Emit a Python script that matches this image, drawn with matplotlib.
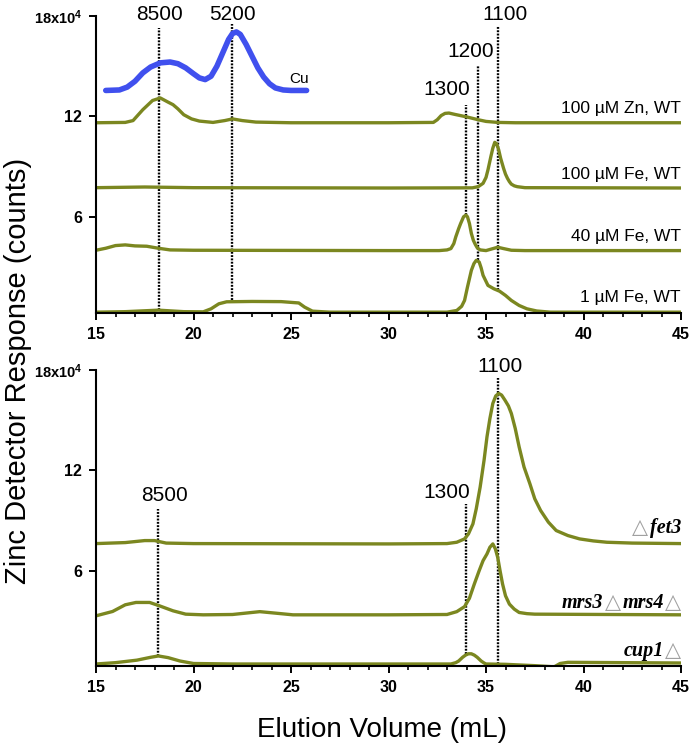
import matplotlib
matplotlib.use('Agg')
import matplotlib.pyplot as plt
from matplotlib.ticker import MultipleLocator
from matplotlib.offsetbox import TextArea, HPacker, AnnotationBbox

plt.rcParams['font.family'] = ['Liberation Sans', 'DejaVu Sans']
plt.rcParams['mathtext.default'] = 'regular'

GREEN = '#7b8720'
BLUE = '#4050ee'
TRI = '#a0a0a0'

# ----------------------------------------------------------------------------
# top panel: WT grown at different metal levels (counts x 10^4)
cu_vol = [15.5, 16.2, 16.6, 17.0, 17.4, 17.8, 18.3, 18.8, 19.2, 19.6, 20.0,
          20.3, 20.6, 20.9, 21.2, 21.5, 21.8, 22.0, 22.2, 22.4, 22.7, 23.0,
          23.3, 23.6, 23.9, 24.2, 24.6, 25.0, 25.8]
cu_resp = [13.55, 13.58, 13.75, 14.1, 14.6, 14.95, 15.2, 15.25, 15.15, 14.9,
           14.55, 14.3, 14.2, 14.4, 15.0, 15.8, 16.6, 16.95, 17.05, 16.9,
           16.3, 15.6, 14.9, 14.35, 13.95, 13.7, 13.58, 13.55, 13.55]

zn100_vol = [15, 16.5, 16.9, 17.4, 17.9, 18.3, 18.7, 18.95, 19.2, 19.5, 19.9,
             20.3, 21.0, 21.6, 22.0, 22.5, 23.2, 25, 30, 32.3, 32.5, 32.7,
             32.9, 33.1, 33.4, 33.97, 34.6, 35.0, 35.6, 36.5, 45]
zn100_resp = [11.62, 11.64, 11.75, 12.4, 12.95, 13.1, 12.85, 12.7, 12.45,
              12.1, 11.85, 11.72, 11.64, 11.75, 11.85, 11.75, 11.66, 11.62,
              11.62, 11.64, 11.8, 12.05, 12.18, 12.2, 12.12, 11.98, 11.8,
              11.7, 11.64, 11.62, 11.62]

fe100_vol = [15, 17.5, 20, 30, 34.3, 34.6, 34.85, 35.0, 35.1, 35.25, 35.35,
             35.45, 35.55, 35.65, 35.75, 35.9, 36.0, 36.1, 36.2, 36.3, 36.45,
             36.6, 37.0, 45]
fe100_resp = [7.74, 7.78, 7.74, 7.72, 7.73, 7.8, 8.0, 8.35, 8.8, 9.6, 10.1,
              10.45, 10.35, 10.0, 9.5, 8.9, 8.55, 8.3, 8.1, 7.95, 7.85, 7.8,
              7.74, 7.72]

fe40_vol = [15, 15.5, 16.0, 16.5, 17.0, 17.6, 18.2, 18.8, 20, 30, 32.6, 33.0,
            33.2, 33.35, 33.45, 33.6, 33.7, 33.85, 33.97, 34.05, 34.15, 34.25,
            34.35, 34.45, 34.55, 34.7, 35.0, 35.3, 35.6, 35.9, 36.3, 37, 45]
fe40_resp = [4.0, 4.12, 4.28, 4.32, 4.26, 4.24, 4.12, 4.02, 4.0, 3.98, 3.98,
             4.02, 4.1, 4.4, 4.8, 5.3, 5.6, 6.0, 6.1, 6.0, 5.6, 5.0, 4.6,
             4.35, 4.15, 4.02, 3.98, 4.08, 4.18, 4.1, 4.0, 3.98, 3.98]

fe1_vol = [15, 16.5, 18.2, 19.5, 20.5, 20.9, 21.3, 21.7, 23.0, 24.5, 25.4,
           25.7, 26.1, 27, 30, 33.0, 33.5, 33.75, 33.9, 34.05, 34.25, 34.38,
           34.5, 34.65, 34.75, 34.85, 35.1, 35.4, 35.7, 36.0, 36.3, 36.7,
           37.1, 37.6, 38.3, 45]
fe1_resp = [0.3, 0.33, 0.42, 0.33, 0.32, 0.5, 0.8, 0.92, 0.94, 0.93, 0.85,
            0.6, 0.36, 0.3, 0.3, 0.3, 0.4, 0.65, 1.0, 1.8, 2.8, 3.2, 3.4,
            3.3, 2.95, 2.5, 1.9, 1.7, 1.55, 1.3, 1.0, 0.7, 0.5, 0.37, 0.3,
            0.3]

top_series = [(zn100_vol, zn100_resp), (fe100_vol, fe100_resp),
              (fe40_vol, fe40_resp), (fe1_vol, fe1_resp)]
top_names = ['100 \u00b5M Zn, WT', '100 \u00b5M Fe, WT', '40 \u00b5M Fe, WT',
             '1 \u00b5M Fe, WT']

# marker lines (elution volume, from, to) and apparent mass labels
top_mark_vol = [18.25, 21.97, 33.97, 34.6, 35.6]
top_mark_lo = [0.45, 1.0, 6.1, 3.4, 1.6]
top_mark_hi = [17.3, 17.5, 12.7, 15.0, 17.4]
top_mark_text = ['8500', '5200', '1300', '1200', '1100']

# ----------------------------------------------------------------------------
# bottom panel: deletion strains
fet3_vol = [15, 16.5, 17.5, 18.0, 18.6, 20, 30, 33.0, 33.5, 33.9, 34.1,
            34.33, 34.5, 34.7, 34.9, 35.05, 35.2, 35.35, 35.5, 35.65, 35.8,
            35.97, 36.15, 36.3, 36.5, 36.7, 36.95, 37.25, 37.5, 37.8, 38.2,
            38.6, 39.2, 39.8, 40.5, 41.2, 42.5, 45]
fet3_resp = [7.62, 7.68, 7.8, 7.8, 7.65, 7.62, 7.6, 7.62, 7.7, 7.9, 8.2,
             8.8, 9.7, 11.0, 12.6, 14.0, 15.1, 16.0, 16.45, 16.6, 16.5,
             16.2, 15.85, 15.4, 14.5, 13.4, 12.2, 11.2, 10.3, 9.6, 8.9, 8.4,
             8.1, 7.9, 7.78, 7.7, 7.65, 7.62]

mrs_vol = [15, 15.85, 16.5, 17.05, 17.75, 18.25, 18.95, 19.6, 20.5, 22,
           23.4, 24.3, 25.1, 30, 33, 33.5, 33.9, 34.15, 34.4, 34.65, 34.85,
           35.05, 35.2, 35.35, 35.48, 35.6, 35.72, 35.85, 36.0, 36.2, 36.45,
           36.7, 37.1, 37.5, 45]
mrs_resp = [3.3, 3.56, 3.96, 4.1, 4.1, 3.9, 3.6, 3.4, 3.36, 3.38, 3.55,
            3.45, 3.36, 3.36, 3.38, 3.55, 3.85, 4.35, 5.2, 6.0, 6.6, 7.0,
            7.4, 7.6, 7.3, 6.8, 6.0, 5.2, 4.5, 4.0, 3.7, 3.5, 3.43, 3.4,
            3.36]

cup1_vol = [15, 16, 17.1, 17.8, 18.2, 18.7, 19.3, 20, 22, 30, 33.2, 33.45,
            33.6, 33.8, 33.95, 34.1, 34.25, 34.4, 34.55, 34.75, 34.9, 35.0,
            36, 37.5, 38.5, 38.8, 39.2, 45]
cup1_resp = [0.42, 0.5, 0.65, 0.82, 0.9, 0.8, 0.6, 0.45, 0.42, 0.42, 0.42,
             0.5, 0.6, 0.82, 0.95, 1.03, 1.03, 0.95, 0.82, 0.6, 0.48, 0.42,
             0.4, 0.32, 0.25, 0.45, 0.52, 0.48]

bot_series = [(fet3_vol, fet3_resp), (mrs_vol, mrs_resp),
              (cup1_vol, cup1_resp)]
# strain names as (text, is_triangle) pieces
bot_names = [[('\u25b3', True), ('fet3', False)],
             [('mrs3', False), ('\u25b3', True), ('mrs4', False),
              ('\u25b3', True)],
             [('cup1', False), ('\u25b3', True)]]

bot_mark_vol = [18.2, 33.97, 35.6]
bot_mark_lo = [0.9, 1.04, 0.42]
bot_mark_hi = [9.7, 10.0, 17.5]
bot_mark_text = ['8500', '1300', '1100']

y_ticks = [6, 12, 18]
y_ticklabels = ['6', '12', '18x10$^{4}$']
x_ticks = [15, 20, 25, 30, 35, 40, 45]

# ----------------------------------------------------------------------------


def style_axis(ax, ymin):
    ax.set_xlim(15, 45)
    ax.set_ylim(ymin, 18)
    for s in ['top', 'right']:
        ax.spines[s].set_visible(False)
    for s in ['left', 'bottom']:
        ax.spines[s].set_linewidth(1.5)
    ax.set_xticks(x_ticks)
    ax.set_xticklabels([str(v) for v in x_ticks], fontweight='bold',
                       fontsize=11.5)
    ax.xaxis.set_minor_locator(MultipleLocator(1))
    ax.set_yticks(y_ticks)
    ax.set_yticklabels(y_ticklabels, fontweight='bold', fontsize=11.5)
    ax.get_yticklabels()[-1].set_fontsize(10.5)
    ax.tick_params(axis='both', which='major', direction='out', length=5,
                   width=1.4, pad=5)
    ax.tick_params(axis='x', which='minor', direction='out', length=3,
                   width=1.2)


def mark_lines(ax, vols, lo, hi):
    for v, a, b in zip(vols, lo, hi):
        ax.plot([v, v], [a, b], color='black', lw=1.7,
                linestyle=(0, (0.8, 0.6)), clip_on=False, zorder=1)


def strain_label(ax, pieces, y):
    boxes = []
    for txt, tri in pieces:
        if tri:
            props = dict(color=TRI, fontsize=15, family='DejaVu Sans')
        else:
            props = dict(color='black', fontsize=14.5,
                         family='Liberation Serif', style='italic',
                         fontweight='bold')
        boxes.append(TextArea(txt, textprops=props))
    pack = HPacker(children=boxes, sep=1, pad=0, align='baseline')
    ab = AnnotationBbox(pack, (45, y), xycoords='data',
                        box_alignment=(1, 0.5), frameon=False, pad=0,
                        annotation_clip=False)
    ax.add_artist(ab)


fig = plt.figure(figsize=(6.92, 7.48), dpi=100)
ax1 = fig.add_axes([96 / 692, 1 - 313 / 748, 585 / 692, 297 / 748])
ax2 = fig.add_axes([96 / 692, 1 - 666 / 748, 585 / 692, 296 / 748])

# top panel
style_axis(ax1, 0.25)
mark_lines(ax1, top_mark_vol, top_mark_lo, top_mark_hi)
ax1.plot(cu_vol, cu_resp, color=BLUE, lw=4, solid_capstyle='round',
         solid_joinstyle='round', zorder=3)
ax1.text(25.4, 14.25, 'Cu', fontsize=11, ha='center', va='center')
for vx, vy in top_series:
    ax1.plot(vx, vy, color=GREEN, lw=2.4, solid_joinstyle='round', zorder=2)
top_name_y = [12.45, 8.5, 4.8, 1.2]
for name, y in zip(top_names, top_name_y):
    ax1.text(45, y, name, fontsize=12.5, ha='right', va='center')
top_lab_x = [18.25, 22.0, 33.0, 34.2, 36.0]
top_lab_y = [18.1, 18.1, 13.6, 15.9, 18.1]
for t, x, y in zip(top_mark_text, top_lab_x, top_lab_y):
    ax1.text(x, y, t, fontsize=15, ha='center', va='center', clip_on=False)

# bottom panel
style_axis(ax2, 0.3)
mark_lines(ax2, bot_mark_vol, bot_mark_lo, bot_mark_hi)
for vx, vy in bot_series:
    ax2.plot(vx, vy, color=GREEN, lw=2.4, solid_joinstyle='round', zorder=2)
bot_name_y = [8.6, 4.1, 1.25]
for pieces, y in zip(bot_names, bot_name_y):
    strain_label(ax2, pieces, y)
bot_lab_x = [18.5, 33.0, 35.7]
bot_lab_y = [10.5, 10.7, 18.2]
for t, x, y in zip(bot_mark_text, bot_lab_x, bot_lab_y):
    ax2.text(x, y, t, fontsize=15, ha='center', va='center', clip_on=False)

fig.text(18 / 692, 1 - 371 / 748, 'Zinc Detector Response (counts)',
         rotation=90, fontsize=21, ha='center', va='center')
fig.text(382 / 692, 1 - 730 / 748, 'Elution Volume (mL)', fontsize=20,
         ha='center', va='center')

fig.savefig('out.png', dpi=100)
